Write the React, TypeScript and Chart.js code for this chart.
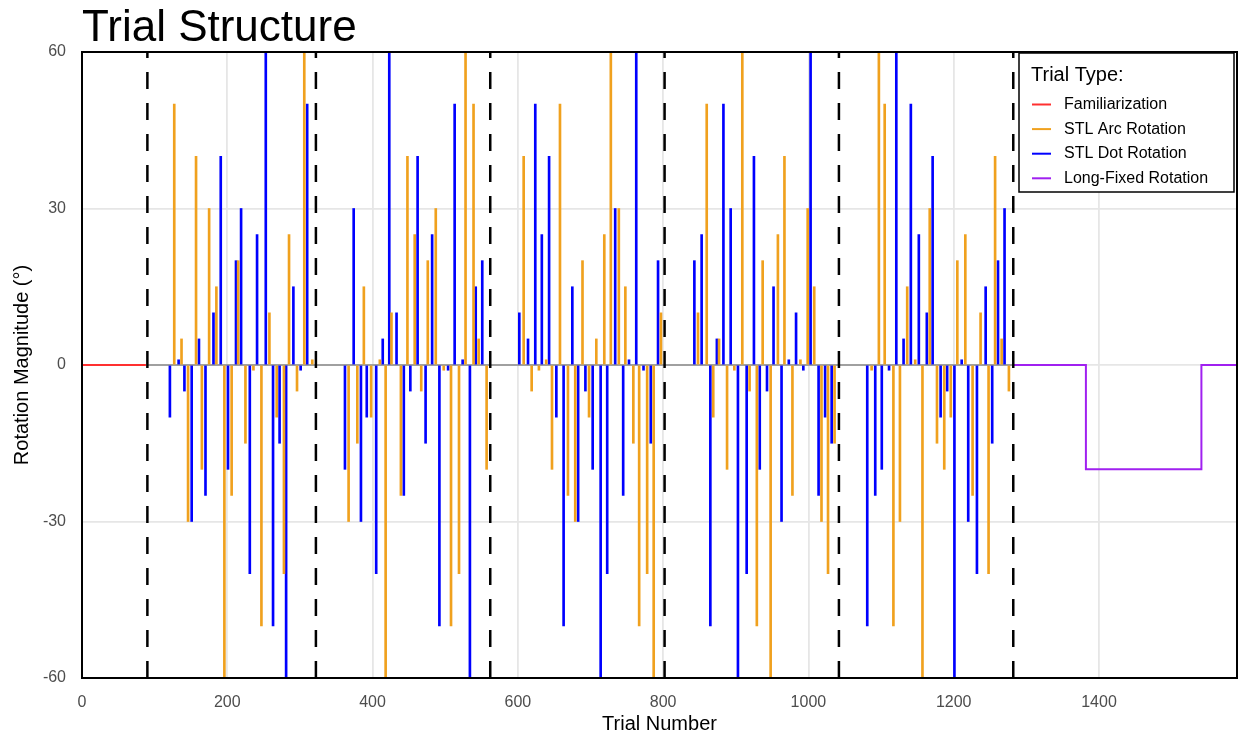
import React, { useEffect, useRef } from "react";
import { Chart, registerables } from "chart.js";

Chart.register(...registerables);

const TITLE = "Trial Structure";
const X_TITLE = "Trial Number";
const Y_TITLE = "Rotation Magnitude (°)";
const LEGEND_TITLE = "Trial Type:";

const famTrials = [0, 88];
const famValues = [0, 0];

const baseTrials = [90, 1282];
const baseValues = [0, 0];

const arcTrials = [
  127, 137, 146, 157, 165, 175, 185, 196, 206, 215, 225, 236, 247, 258, 268, 278, 285, 296, 306, 317,
  367, 379, 388, 398, 410, 418, 426, 439, 448, 458, 467, 476, 487, 498, 508, 519, 528, 539, 546, 557,
  608, 619, 629, 639, 647, 658, 669, 679, 689, 698, 708, 719, 728, 739, 748, 759, 767, 778, 787, 797,
  848, 860, 869, 877, 888, 898, 909, 919, 929, 937, 948, 958, 967, 978, 989, 999, 1008, 1018, 1027, 1036,
  1087, 1097, 1105, 1117, 1126, 1136, 1147, 1157, 1167, 1177, 1187, 1196, 1205, 1216, 1226, 1237, 1248, 1257, 1266, 1276,
];
const arcValues = [
  50, 5, -30, 40, -20, 30, 15, -60, -25, 20, -15, -1, -50, 10, -10, -40, 25, -5, 60, 1,
  -30, -15, 15, -10, 1, -60, 10, -25, 40, 25, -5, 20, 30, -1, -50, -40, 60, 50, 5, -20,
  40, -5, -1, 1, -20, 50, -25, -30, 20, -10, 5, 25, 60, 30, 15, -15, -50, -40, -60, 10,
  10, 50, -10, 5, -20, -1, 60, -5, -50, 20, -60, 25, 40, -25, 1, 30, 15, -30, -40, -15,
  -1, 60, 50, -50, -30, 15, 1, -60, 30, -15, -20, -10, 20, 25, -25, 10, -40, 40, 5, -5,
];

const dotTrials = [
  121, 133, 141, 151, 161, 170, 181, 191, 201, 212, 219, 231, 241, 253, 263, 272, 281, 291, 301, 310,
  362, 374, 384, 392, 405, 414, 423, 433, 443, 452, 462, 473, 482, 492, 504, 513, 524, 534, 542, 551,
  602, 614, 624, 633, 643, 653, 663, 675, 683, 693, 703, 714, 723, 734, 745, 753, 763, 773, 783, 793,
  843, 853, 865, 874, 883, 893, 903, 915, 925, 933, 943, 952, 963, 973, 983, 993, 1003, 1014, 1023, 1032,
  1081, 1092, 1101, 1111, 1121, 1131, 1141, 1152, 1163, 1171, 1182, 1191, 1201, 1211, 1220, 1232, 1244, 1253, 1261, 1270,
];
const dotValues = [
  -10, 1, -5, -30, 5, -25, 10, 40, -20, 20, 30, -40, 25, 60, -50, -15, -60, 15, -1, 50,
  -20, 30, -30, -10, -40, 5, 60, 10, -25, -5, 40, -15, 25, -50, -1, 50, 1, -60, 15, 20,
  10, 5, 50, 25, 40, -10, -50, 15, -30, -5, -20, -60, -40, 30, -25, 1, 60, -1, -15, 20,
  20, 25, -50, 5, 50, 30, -60, -40, 40, -20, -5, 15, -30, 1, 10, -1, 60, -25, -10, -15,
  -50, -25, -20, -1, 60, 5, 50, 25, 10, 40, -10, -5, -60, 1, -30, -40, 15, -15, 20, 30,
];

const longTrials = [1282, 1382, 1541, 1590];
const longValues = [0, -20, 0, 0];

const blockBounds = [90, 322, 562, 802, 1042, 1282];

const xTicks = [0, 200, 400, 600, 800, 1000, 1200, 1400];
const yTicks = [-60, -30, 0, 30, 60];

const legendLabels = ["Familiarization", "STL Arc Rotation", "STL Dot Rotation", "Long-Fixed Rotation"];
const legendColors = ["#FF3030", "#F0A11E", "#0000FF", "#A020F0"];

const FONT = '"Liberation Sans", Arial, Helvetica, sans-serif';

const pts = (xs: number[], ys: number[]) => xs.map((x, i) => ({ x, y: ys[i] }));

const overlayPlugin = {
  id: "overlay",
  afterDraw(chart: any) {
    const { ctx, chartArea: a } = chart;
    ctx.save();
    // panel border
    ctx.strokeStyle = "#000";
    ctx.lineWidth = 2;
    ctx.strokeRect(a.left, a.top, a.right - a.left, a.bottom - a.top);
    // title
    ctx.fillStyle = "#000";
    ctx.font = `44px ${FONT}`;
    ctx.textAlign = "left";
    ctx.textBaseline = "alphabetic";
    ctx.fillText(TITLE, a.left, 41);
    // legend
    const lw = 215;
    const lh = 139;
    const lx = a.right - 3 - lw;
    const ly = a.top + 1;
    ctx.fillStyle = "#fff";
    ctx.fillRect(lx, ly, lw, lh);
    ctx.strokeStyle = "#000";
    ctx.lineWidth = 1.5;
    ctx.strokeRect(lx, ly, lw, lh);
    ctx.fillStyle = "#000";
    ctx.font = `20px ${FONT}`;
    ctx.textBaseline = "middle";
    ctx.fillText(LEGEND_TITLE, lx + 12, ly + 22);
    ctx.font = `16px ${FONT}`;
    legendLabels.forEach((lab, i) => {
      const y = ly + 51.5 + i * 24.6;
      ctx.strokeStyle = legendColors[i];
      ctx.lineWidth = 2;
      ctx.beginPath();
      ctx.moveTo(lx + 13, y);
      ctx.lineTo(lx + 32, y);
      ctx.stroke();
      ctx.fillStyle = "#000";
      ctx.fillText(lab, lx + 45, y);
    });
    ctx.restore();
  },
};

export default function App() {
  const canvasRef = useRef<HTMLCanvasElement | null>(null);

  useEffect(() => {
    const canvas = canvasRef.current;
    if (!canvas) return;

    const dashSets = blockBounds.map((t) => ({
      type: "line" as const,
      data: [
        { x: t, y: -60 },
        { x: t, y: 60 },
      ],
      borderColor: "#000",
      borderWidth: 2.5,
      borderDash: [17, 14],
      pointRadius: 0,
      order: 0,
    }));

    const chart = new Chart(canvas, {
      type: "line",
      data: {
        datasets: [
          ...dashSets,
          {
            type: "line",
            data: pts(famTrials, famValues),
            borderColor: legendColors[0],
            borderWidth: 2,
            pointRadius: 0,
            order: 3,
          },
          {
            type: "line",
            data: pts(baseTrials, baseValues),
            borderColor: "#A0A0A0",
            borderWidth: 2,
            pointRadius: 0,
            order: 3,
          },
          {
            type: "bar",
            data: pts(arcTrials, arcValues),
            backgroundColor: legendColors[1],
            borderWidth: 0,
            barThickness: 2,
            grouped: false,
            order: 2,
          },
          {
            type: "bar",
            data: pts(dotTrials, dotValues),
            backgroundColor: legendColors[2],
            borderWidth: 0,
            barThickness: 2,
            grouped: false,
            order: 2,
          },
          {
            type: "line",
            data: pts(longTrials, longValues),
            borderColor: legendColors[3],
            borderWidth: 2,
            pointRadius: 0,
            stepped: "before",
            order: 1,
          },
        ] as any,
      },
      options: {
        animation: false,
        responsive: true,
        maintainAspectRatio: false,
        devicePixelRatio: 1,
        events: [],
        layout: { padding: { top: 52, right: 2, left: 0, bottom: 0 } },
        plugins: {
          legend: { display: false },
          tooltip: { enabled: false },
          title: { display: false },
        },
        scales: {
          x: {
            type: "linear",
            min: 0,
            max: 1590,
            offset: false,
            grid: { color: "#E6E6E6", lineWidth: 1.8, drawTicks: false, offset: false },
            border: { display: false },
            afterBuildTicks: (s: any) => {
              s.ticks = xTicks.map((v) => ({ value: v }));
            },
            afterFit: (s: any) => {
              s.height = 58;
            },
            ticks: {
              padding: 15,
              color: "#4D4D4D",
              font: { family: FONT, size: 16 },
              maxRotation: 0,
              autoSkip: false,
              callback: (v: any) => String(v),
            },
            title: {
              display: true,
              text: X_TITLE,
              color: "#000",
              font: { family: FONT, size: 20 },
              padding: { top: 0, bottom: 0 },
            },
          },
          y: {
            type: "linear",
            min: -60,
            max: 60,
            grid: { color: "#E6E6E6", lineWidth: 1.8, drawTicks: false },
            border: { display: false },
            afterBuildTicks: (s: any) => {
              s.ticks = yTicks.map((v) => ({ value: v }));
            },
            afterFit: (s: any) => {
              s.width = 82;
            },
            ticks: {
              padding: 16,
              color: "#4D4D4D",
              font: { family: FONT, size: 16 },
              autoSkip: false,
              callback: (v: any) => String(v),
            },
            title: {
              display: true,
              text: Y_TITLE,
              color: "#000",
              font: { family: FONT, size: 20 },
              padding: { top: 10, bottom: 0 },
            },
          },
        },
      } as any,
      plugins: [overlayPlugin],
    });

    return () => {
      chart.destroy();
    };
  }, []);

  return (
    <div style={{ position: "fixed", left: 0, top: 0, width: 1239, height: 736, background: "#fff" }}>
      <canvas ref={canvasRef} />
    </div>
  );
}
